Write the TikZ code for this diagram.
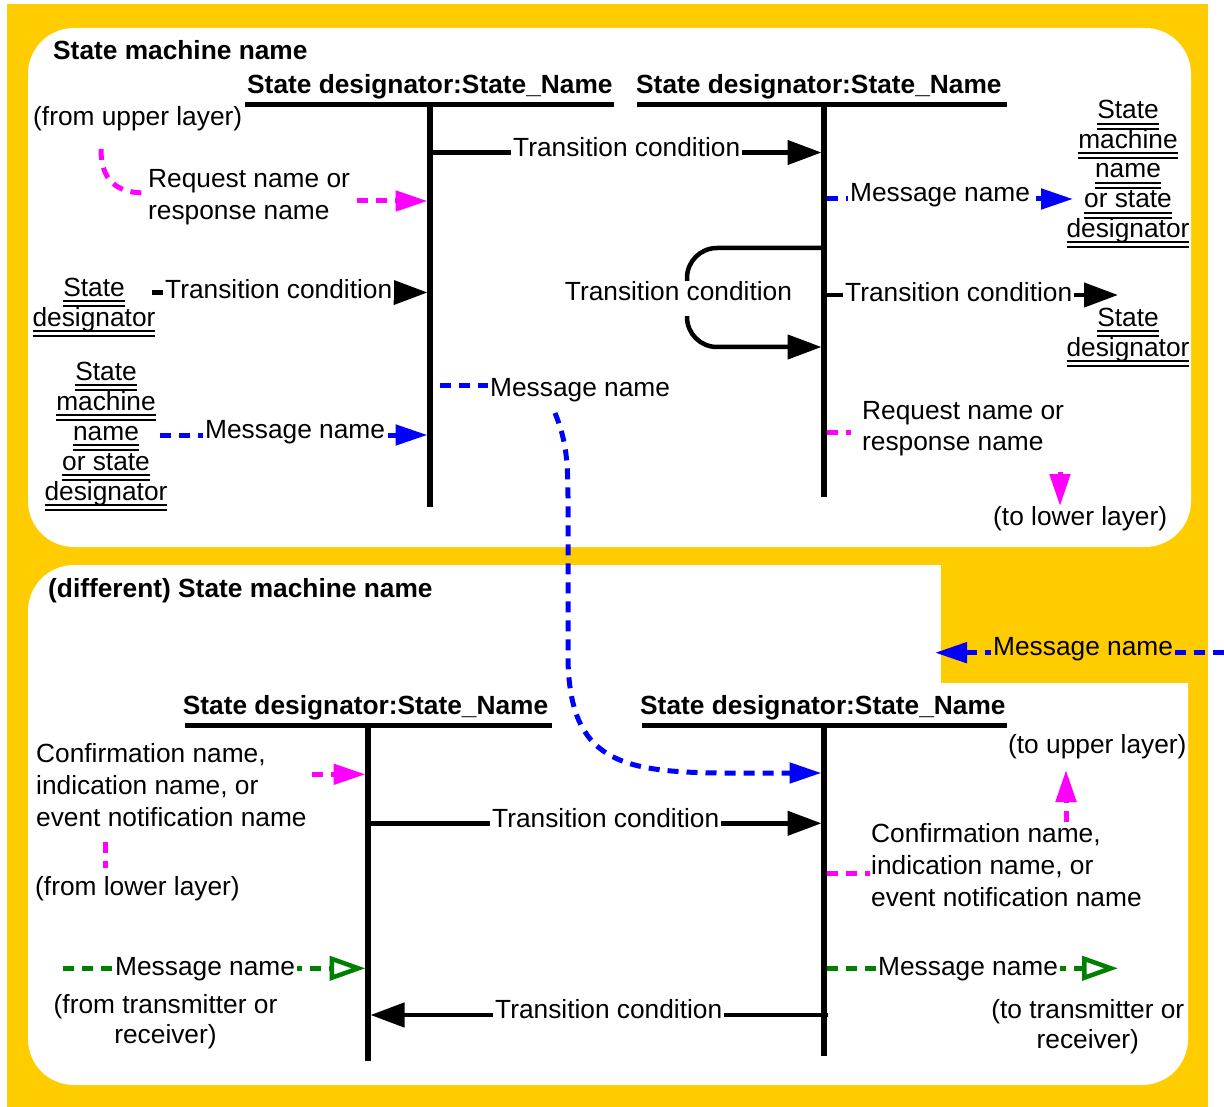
\documentclass[tikz,border=0pt]{standalone}
\usepackage{fontspec}
\setmainfont{Liberation Sans}
\usetikzlibrary{arrows.meta}
\definecolor{ybg}{HTML}{FFCC00}
\definecolor{mag}{HTML}{FF00FF}
\definecolor{blu}{HTML}{0000FF}
\definecolor{grn}{HTML}{008000}
\newcommand\dul[1]{\setbox0\hbox{#1}\rlap{\smash{\rule[-6pt]{\wd0}{2pt}}}\rlap{\smash{\rule[-11pt]{\wd0}{2pt}}}\box0}
\tikzset{
  txt/.style={font=\fontsize{26.3pt}{30pt}\selectfont, inner sep=0pt},
  bld/.style={font=\fontsize{26.3pt}{30pt}\selectfont\bfseries, inner sep=0pt},
  lbl/.style={txt, fill=white, inner xsep=2pt, inner ysep=1pt},
  hdline/.style={line width=5pt},
  life/.style={line width=5.5pt},
  trans/.style={line width=4.5pt, -{Triangle[length=34pt,width=24pt]}},
  mdash/.style={draw=mag, line width=5pt, dash pattern=on 11pt off 8pt},
  bdash/.style={draw=blu, line width=5pt, dash pattern=on 11pt off 8pt},
  gdash/.style={draw=grn, line width=5pt, dash pattern=on 11pt off 8pt},
  ctip/.style={-{Triangle[length=32pt,width=20pt]}},
  otip/.style={-{Triangle[open,length=36pt,width=24pt,line width=4.5pt]}},
}
\begin{document}
\begin{tikzpicture}[x=1pt,y=-1pt]
\useasboundingbox (0,0) rectangle (1224,1107);
% background and panels
\fill[ybg] (7,4) rectangle (1208,1107);
\fill[white, rounded corners=46pt] (28,28) rectangle (1191,547);
\fill[white, rounded corners=46pt] (28,565) rectangle (1188,1085);
\fill[ybg] (941,560) rectangle (1190,683);

% coordinates: headers and lifelines
\coordinate (h1a) at (245,105); \coordinate (h1b) at (614,105);
\coordinate (h2a) at (637,105); \coordinate (h2b) at (1007,105);
\coordinate (L1t) at (430,105); \coordinate (L1b) at (430,507);
\coordinate (L2t) at (824,105); \coordinate (L2b) at (824,497);
\coordinate (h3a) at (185,725); \coordinate (h3b) at (552,725);
\coordinate (h4a) at (642,725); \coordinate (h4b) at (1007,725);
\coordinate (L3t) at (368,725); \coordinate (L3b) at (368,1061);
\coordinate (L4t) at (824,725); \coordinate (L4b) at (824,1056);

% connector end points
\coordinate (c1s) at (427,152.5); \coordinate (c1e) at (821.5,152.5);
\coordinate (m1a) at (101,149); \coordinate (m1b) at (146,193);
\coordinate (m1c) at (357,201); \coordinate (m1d) at (427.5,201);
\coordinate (c2s) at (152,292.5); \coordinate (c2e) at (427.5,292.5);
\coordinate (b1s) at (160,435); \coordinate (b1e) at (427.5,435);
\coordinate (b2s) at (826.5,199); \coordinate (b2e) at (1073,199);
\coordinate (lp1) at (824,248); \coordinate (lp2) at (687,248);
\coordinate (lp3) at (687,347); \coordinate (lp4) at (821.5,347);
\coordinate (c3s) at (826.5,295); \coordinate (c3e) at (1118,295);
\coordinate (m2s) at (826.5,432.3); \coordinate (m2e) at (851,432.3);
\coordinate (m3s) at (1060,472); \coordinate (m3e) at (1060,506);
\coordinate (b3s) at (440,385); \coordinate (b3e) at (488,385);
\coordinate (b4s) at (555,413); \coordinate (b4e) at (821.5,773);
\coordinate (b5s) at (1224,652.7); \coordinate (b5e) at (935,652.7);
\coordinate (m4s) at (312,774.3); \coordinate (m4e) at (365.5,774.3);
\coordinate (m5s) at (105,842); \coordinate (m5e) at (105,868);
\coordinate (c4s) at (370,823.3); \coordinate (c4e) at (821.5,823.3);
\coordinate (m6s) at (826.5,873); \coordinate (m6e) at (870,873);
\coordinate (m7s) at (1066,822); \coordinate (m7e) at (1066,770);
\coordinate (g1s) at (63,968.3); \coordinate (g1e) at (365.5,968.3);
\coordinate (c5s) at (828.3,1015); \coordinate (c5e) at (370.5,1015);
\coordinate (g2s) at (826.5,968.3); \coordinate (g2e) at (1118,968.3);

% header lines and lifelines
\draw[hdline] (h1a) -- (h1b);
\draw[hdline] (h2a) -- (h2b);
\draw[hdline] (h3a) -- (h3b);
\draw[hdline] (h4a) -- (h4b);
\draw[life] (L1t) -- (L1b);
\draw[life] (L2t) -- (L2b);
\draw[life] (L3t) -- (L3b);
\draw[life] (L4t) -- (L4b);

% upper connectors
\draw[trans] (c1s) -- (c1e);
\draw[mdash] (m1a) .. controls (101,182) and (118,193) .. (m1b);
\draw[mdash, ctip] (m1c) -- (m1d);
\draw[trans] (c2s) -- (c2e);
\draw[bdash, ctip] (b1s) -- (b1e);
\draw[bdash, ctip] (b2s) -- (b2e);
\draw[trans, rounded corners=30pt] (lp1) -- (lp2) -- (lp3) -- (lp4);
\draw[trans] (c3s) -- (c3e);
\draw[mdash] (m2s) -- (m2e);
\draw[mdash, ctip] (m3s) -- (m3e);
\draw[bdash] (b3s) -- (b3e);
\draw[bdash, ctip] (b4s) .. controls (566,440) and (568,460) .. (568,500) -- (568,660) .. controls (570,760) and (620,772) .. (720,773) -- (b4e);

% lower connectors
\draw[bdash, ctip] (b5s) -- (b5e);
\draw[mdash, ctip] (m4s) -- (m4e);
\draw[mdash] (m5s) -- (m5e);
\draw[trans] (c4s) -- (c4e);
\draw[mdash] (m6s) -- (m6e);
\draw[mdash, ctip] (m7s) -- (m7e);
\draw[gdash, otip] (g1s) -- (g1e);
\draw[trans] (c5s) -- (c5e);
\draw[gdash, otip] (g2s) -- (g2e);

% upper texts
\node[bld, anchor=base west] (smn) at (53,59.5) {State machine name};
\node[bld, anchor=base west] (hd1) at (247,93.5) {State designator:State\_Name};
\node[bld, anchor=base west] (hd2) at (636,93.5) {State designator:State\_Name};
\node[txt, anchor=base west] (ful) at (33,126) {(from upper layer)};
\node[txt, anchor=north west, align=left, font=\fontsize{26.3pt}{31.7pt}\selectfont] (rq1) at (148,169.5) {Request name or\\response name};
\node[lbl, anchor=base west] (tc1) at (511,156.5) {Transition condition};
\node[txt, anchor=north, align=center] (sd1) at (94,277.5) {\dul{State}\\\dul{designator}};
\node[lbl, anchor=base west] (tc2) at (163,299) {Transition condition};
\node[txt, anchor=north, align=center] (sm1) at (106,361.5) {\dul{State}\\\dul{machine}\\\dul{name}\\\dul{or state}\\\dul{designator}};
\node[lbl, anchor=base west] (mn1) at (203,438.3) {Message name};
\node[lbl, anchor=base west] (mn3) at (488,396.7) {Message name};
\node[txt, anchor=north, align=center, font=\fontsize{26.3pt}{29.7pt}\selectfont] (sm2) at (1128,100) {\dul{State}\\\dul{machine}\\\dul{name}\\\dul{or state}\\\dul{designator}};
\node[lbl, anchor=base west] (mn2) at (848,201.7) {Message name};
\node[lbl, anchor=base west, text depth=14pt] (tc3) at (562.7,301) {Transition condition};
\node[lbl, anchor=base west] (tc4) at (843,301.7) {Transition condition};
\node[txt, anchor=north, align=center] (sd2) at (1128,307.5) {\dul{State}\\\dul{designator}};
\node[txt, anchor=north west, align=left, font=\fontsize{26.3pt}{31.7pt}\selectfont] (rq2) at (862,401) {Request name or\\response name};
\node[txt, anchor=base west] (tll) at (993,525) {(to lower layer)};

% lower texts
\node[bld, anchor=base west] (dsmn) at (48,597) {(different) State machine name};
\node[txt, fill=ybg, inner xsep=2pt, inner ysep=1pt, anchor=base west] (mn4) at (991,655) {Message name};
\node[bld, anchor=base west] (hd3) at (182.7,714) {State designator:State\_Name};
\node[bld, anchor=base west] (hd4) at (640,714) {State designator:State\_Name};
\node[txt, anchor=north west, align=left, font=\fontsize{26.3pt}{32pt}\selectfont] (cf1) at (36,743) {Confirmation name,\\indication name, or\\event notification name};
\node[txt, anchor=base west] (fll) at (35,895.5) {(from lower layer)};
\node[lbl, anchor=base west] (tc5) at (490,827.5) {Transition condition};
\node[txt, anchor=north west, align=left, font=\fontsize{26.3pt}{32pt}\selectfont] (cf2) at (871,823) {Confirmation name,\\indication name, or\\event notification name};
\node[txt, anchor=base east] (tul) at (1186.7,753) {(to upper layer)};
\node[lbl, anchor=base west] (gm1) at (113,975) {Message name};
\node[txt, anchor=north, align=center, font=\fontsize{26.3pt}{30.7pt}\selectfont] (ftr) at (165.5,994) {(from transmitter or\\receiver)};
\node[lbl, anchor=base west] (tc6) at (493,1018.3) {Transition condition};
\node[lbl, anchor=base west] (gm2) at (876,975) {Message name};
\node[txt, anchor=north, align=center] (ttr) at (1087.8,999) {(to transmitter or\\receiver)};
\end{tikzpicture}
\end{document}
